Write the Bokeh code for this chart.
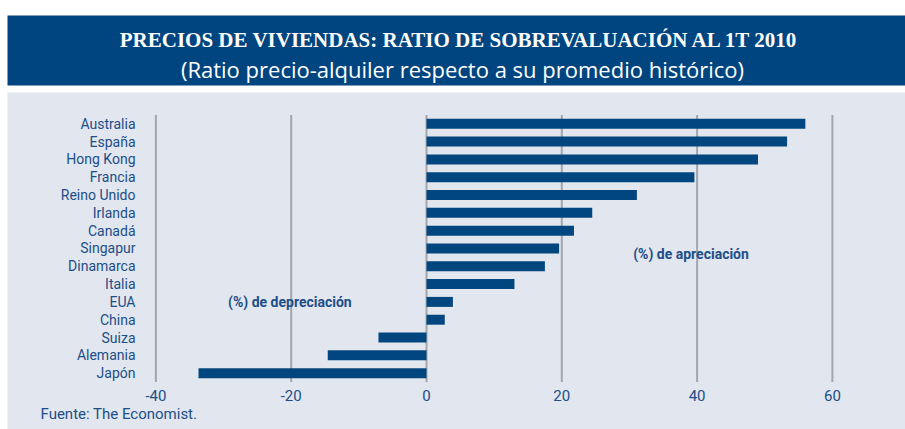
from bokeh.plotting import figure
from bokeh.models import Range1d
from bokeh.core.properties import value
from bokeh.embed import file_html
from bokeh.resources import INLINE

# ---- data ----
countries = ["Australia", "España", "Hong Kong", "Francia", "Reino Unido", "Irlanda",
             "Canadá", "Singapur", "Dinamarca", "Italia", "EUA", "China", "Suiza",
             "Alemania", "Japón"]
values = [56.0, 53.3, 49.0, 39.6, 31.1, 24.5, 21.8, 19.6, 17.5, 13.0, 3.9, 2.7, -7.1, -14.6, -33.7]
x_ticks = [-40, -20, 0, 20, 40, 60]
x_tick_labels = ["-40", "-20", "0", "20", "40", "60"]
title_text = "PRECIOS DE VIVIENDAS: RATIO DE SOBREVALUACIÓN AL 1T 2010"
subtitle_text = "(Ratio precio-alquiler respecto a su promedio histórico)"
note_texts = ["(%) de depreciación", "(%) de apreciación"]
note_x = [-20.2, 39.1]
note_row = ["EUA", "Singapur"]
source_text = "Fuente: The Economist."

# ---- styles / layout constants ----
W, H = 905, 429
BAND = "#00457f"
PANEL = "#e1e6ef"
BAR = "#02467f"
TXT = "#1d4e88"
GRID = "#a3a6ab"
SANS = "Roboto"

PX_PER_UNIT = 6.765      # horizontal scale
ZERO_PX = 426.0          # page x of value 0
ROW_PX = 17.81           # row pitch
ROW0_PX = 123.3          # page y of first row centre

x_start = -ZERO_PX / PX_PER_UNIT
x_end = (W - ZERO_PX) / PX_PER_UNIT
y_top = -ROW0_PX / ROW_PX
y_bottom = (H - ROW0_PX) / ROW_PX

p = figure(width=W, height=H, x_range=Range1d(x_start, x_end), y_range=Range1d(y_bottom, y_top),
           x_axis_type=None, y_axis_type=None, min_border=0,
           output_backend="svg", toolbar_location=None)
p.extra_x_ranges = {"px": Range1d(0, W)}
p.extra_y_ranges = {"px": Range1d(H, 0)}
p.grid.visible = False
p.outline_line_color = None
p.background_fill_color = "white"
p.border_fill_color = "white"

# background panel and title band (page pixel coordinates)
p.quad(left=[7], right=[W], top=[92], bottom=[H], color=PANEL, line_color=None,
       x_range_name="px", y_range_name="px")
p.quad(left=[7], right=[W], top=[15], bottom=[85], color=BAND, line_color=None,
       x_range_name="px", y_range_name="px")
p.text(x=[459], y=[39.5], text=[title_text], text_align="center", text_baseline="middle",
       text_font=value("Liberation Serif"), text_font_style="bold",
       text_font_size="21px", text_color="white", x_range_name="px", y_range_name="px")
p.text(x=[462], y=[68], text=[subtitle_text], text_align="center", text_baseline="middle",
       text_font=value("Open Sans"), text_font_size="22px", text_color="white",
       x_range_name="px", y_range_name="px")

rows = list(range(len(countries)))
row_of = dict(zip(countries, rows))

# vertical grid lines
n = len(countries)
p.segment(x0=x_ticks, x1=x_ticks, y0=[-0.5] * len(x_ticks), y1=[n - 0.5] * len(x_ticks),
          line_color=GRID, line_width=2)

# bars
p.hbar(y=rows, left=0, right=values, height=0.56, color=BAR, line_color=None)

# category labels
p.text(x=[135] * n, y=rows, text=countries, text_align="right", text_baseline="middle",
       text_font=value(SANS), text_font_size="14px", text_color=TXT, x_range_name="px")

# x tick labels
p.text(x=x_ticks, y=[n - 0.5] * len(x_ticks), text=x_tick_labels, y_offset=13.5,
       text_align="center", text_baseline="middle", text_font=value(SANS),
       text_font_size="15px", text_color=TXT)

# annotations
p.text(x=note_x, y=[row_of[r] for r in note_row], text=note_texts, y_offset=[0, 6],
       text_align="center", text_baseline="middle", text_font=value(SANS),
       text_font_style="bold", text_font_size="14px", text_color=TXT)

# source
p.text(x=[40], y=[413], text=[source_text], text_align="left", text_baseline="middle",
       text_font=value(SANS), text_font_size="15px", text_color=TXT,
       x_range_name="px", y_range_name="px")

open("out.html", "w").write(file_html(p, INLINE))
